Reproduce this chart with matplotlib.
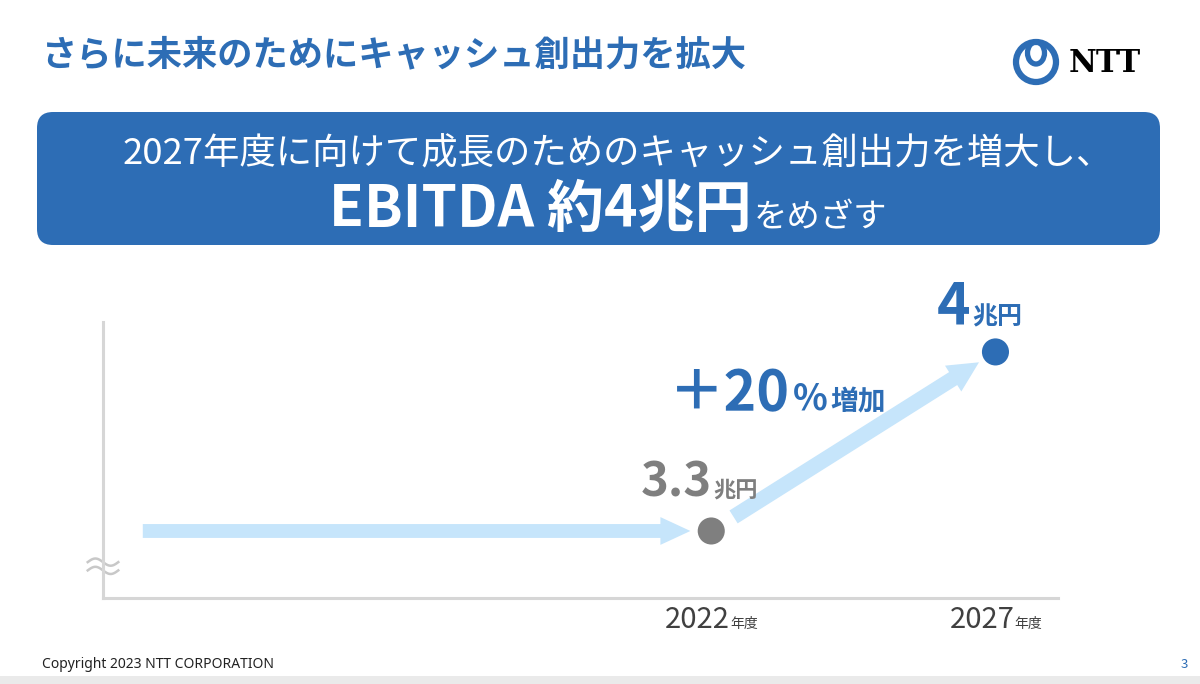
import numpy as np
import matplotlib.pyplot as plt
from matplotlib.patches import FancyBboxPatch, Circle, Ellipse, Rectangle

plt.rcParams['font.family'] = ['Noto Sans CJK JP', 'DejaVu Sans']

# data (EBITDA, 兆円)
years = ['2022', '2027']
ebitda = [3.3, 4.0]
value_labels = ['3.3', '4']
unit_label = '兆円'
year_suffix = '年度'
growth_label = '＋20'

title = 'さらに未来のためにキャッシュ創出力を拡大'
headline_1 = '2027年度に向けて成長のためのキャッシュ創出力を増大し、'
headline_2 = 'EBITDA 約4兆円'
headline_2b = 'をめざす'

BLUE = '#2D6DB5'
GRAY = '#7F7F7F'
ARROW = '#C6E5FB'
AXIS = '#D6D6D6'
W, H = 1200, 684

fig = plt.figure(figsize=(12, 6.84), dpi=100)

# background layer in pixel coordinates
bg = fig.add_axes([0, 0, 1, 1])
bg.set_xlim(0, W)
bg.set_ylim(H, 0)
bg.axis('off')

bg.text(42, 65, title, fontsize=25.4, fontweight='bold', color=BLUE, va='baseline')

box = FancyBboxPatch((37, 112), 1123, 133, boxstyle='round,pad=0,rounding_size=16',
                     fc=BLUE, ec='none')
bg.add_patch(box)
bg.text(123, 164, headline_1, ha='left', va='baseline', fontsize=26.2, color='white')
bg.text(752, 227, headline_2, ha='right', va='baseline', fontsize=41,
        fontweight='bold', color='white')
bg.text(754, 227, headline_2b, ha='left', va='baseline', fontsize=24, color='white')

# logo
bg.add_patch(Circle((1036, 62), 20, fill=False, lw=4.5, ec=BLUE))
bg.add_patch(Ellipse((1036, 53), 17, 22, fill=False, lw=3.8, ec=BLUE))
bg.text(1069, 72, 'NTT', fontsize=22, fontweight='bold', family='DejaVu Serif',
        color='black', va='baseline')

# footer
bg.text(42, 668, 'Copyright 2023 NTT CORPORATION', fontsize=10, color='#222222',
        va='baseline', family='Noto Sans')
bg.text(1188, 668, '3', ha='right', va='baseline', fontsize=9.5, color=BLUE)
bg.add_patch(Rectangle((0, 676), W, 8, color='#EAEAEA', lw=0))

# chart
ax = fig.add_axes([103 / W, 1 - 598 / H, 955 / W, 276 / H])
ax.patch.set_alpha(0)
x = np.arange(len(years))
ax.set_xlim(-2.14, 1.22)
ax.set_ylim(3.038, 4.117)
for side in ['top', 'right']:
    ax.spines[side].set_visible(False)
for side in ['left', 'bottom']:
    ax.spines[side].set_color(AXIS)
    ax.spines[side].set_linewidth(2.2)
ax.set_xticks([])
ax.set_yticks([])

# axis break mark
t = np.linspace(0, 1, 60)
for y0 in (0.13, 0.10):
    ax.plot(-0.016 + 0.032 * t, y0 + 0.013 * np.sin(2 * np.pi * t), color='#C8C8C8',
            lw=1.8, transform=ax.transAxes, clip_on=False)

# arrows
ax.annotate('', xy=(x[0], ebitda[0]), xytext=(x[0] - 2.0, ebitda[0]),
            arrowprops=dict(arrowstyle='simple,head_length=2.16,head_width=2.0,tail_width=1.0',
                            mutation_scale=10, fc=ARROW, ec='none', shrinkA=0, shrinkB=15))
ax.annotate('', xy=(x[1], ebitda[1]), xytext=(x[0], ebitda[0]),
            arrowprops=dict(arrowstyle='simple,head_length=2.2,head_width=2.2,tail_width=1.1',
                            mutation_scale=10, fc=ARROW, ec='none', shrinkA=19, shrinkB=14))

ax.scatter(x, ebitda, s=380, c=[GRAY, BLUE], lw=0, zorder=3, clip_on=False)

# value labels
ax.annotate(value_labels[0], xy=(x[0], ebitda[0]), xytext=(1, 34), textcoords='offset pixels',
            ha='right', va='baseline', fontsize=34, fontweight='bold', color=GRAY)
ax.annotate(unit_label, xy=(x[0], ebitda[0]), xytext=(2, 34), textcoords='offset pixels',
            ha='left', va='baseline', fontsize=16, fontweight='bold', color=GRAY)
ax.annotate(value_labels[1], xy=(x[1], ebitda[1]), xytext=(-25, 27), textcoords='offset pixels',
            ha='right', va='baseline', fontsize=41, fontweight='bold', color=BLUE)
ax.annotate(unit_label, xy=(x[1], ebitda[1]), xytext=(-23, 27), textcoords='offset pixels',
            ha='left', va='baseline', fontsize=18, fontweight='bold', color=BLUE)

# growth label
ax.annotate(growth_label, xy=(x[1], ebitda[1]), xytext=(-205, -58), textcoords='offset pixels',
            ha='right', va='baseline', fontsize=40, fontweight='bold', color=BLUE)
ax.annotate('%', xy=(x[1], ebitda[1]), xytext=(-203, -58), textcoords='offset pixels',
            ha='left', va='baseline', fontsize=26, fontweight='bold', color=BLUE)
ax.annotate('増加', xy=(x[1], ebitda[1]), xytext=(-165, -58), textcoords='offset pixels',
            ha='left', va='baseline', fontsize=20, fontweight='bold', color=BLUE)

# year labels
for xi, yr in zip(x, years):
    ax.annotate(yr, xy=(xi, 0), xycoords=('data', 'axes fraction'), xytext=(19, -30),
                textcoords='offset pixels', ha='right', va='baseline', fontsize=21,
                color='#404040')
    ax.annotate(year_suffix, xy=(xi, 0), xycoords=('data', 'axes fraction'), xytext=(19, -30),
                textcoords='offset pixels', ha='left', va='baseline', fontsize=10,
                color='#404040')

fig.savefig('out.png', dpi=100)
